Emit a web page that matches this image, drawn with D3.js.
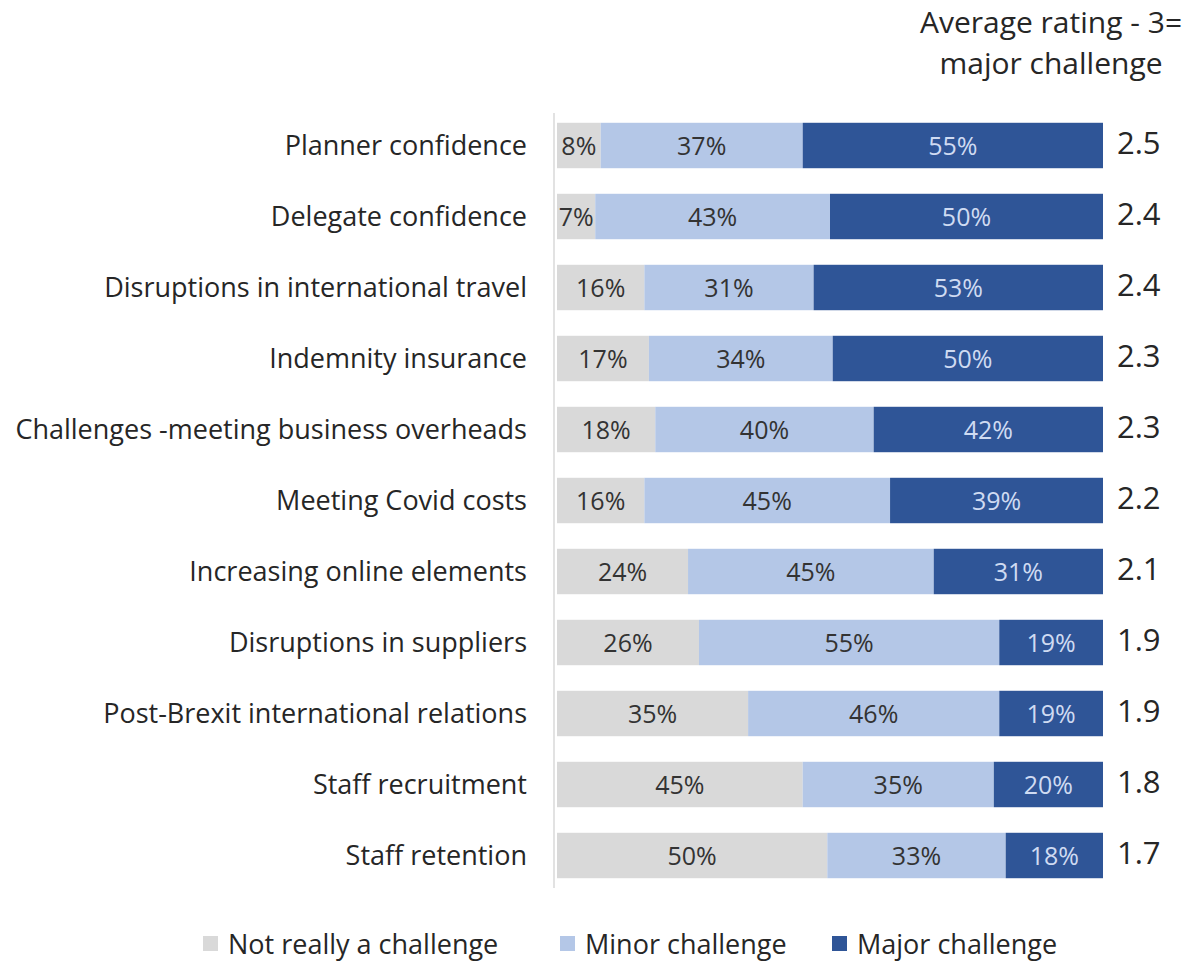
<!DOCTYPE html>
<html>
<head>
<meta charset="utf-8">
<script src="https://cdn.jsdelivr.net/npm/d3@7"></script>
<style>
  body { margin: 0; background: #fff; }
  text { font-family: "Open Sans", "Noto Sans", sans-serif; }
</style>
</head>
<body>
<svg id="chart"></svg>
<script>
var categories = ["Planner confidence", "Delegate confidence", "Disruptions in international travel",
    "Indemnity insurance", "Challenges -meeting business overheads", "Meeting Covid costs",
    "Increasing online elements", "Disruptions in suppliers", "Post-Brexit international relations",
    "Staff recruitment", "Staff retention"];
var notReally = [8, 7, 16, 17, 18, 16, 24, 26, 35, 45, 50];
var minor     = [37, 43, 31, 34, 40, 45, 45, 55, 46, 35, 33];
var major     = [55, 50, 53, 50, 42, 39, 31, 19, 19, 20, 18];
var ratings   = ["2.5", "2.4", "2.4", "2.3", "2.3", "2.2", "2.1", "1.9", "1.9", "1.8", "1.7"];
var seriesNames = ["Not really a challenge", "Minor challenge", "Major challenge"];
var colors = ["#d9d9d9", "#b4c7e7", "#2f5597"];
var labelColors = ["#333333", "#333333", "#cfdbf2"];

var W = 1197, H = 963;
var svg = d3.select("#chart").attr("width", W).attr("height", H);

var rows = categories.map(function(c, i) {
    return { cat: c, s0: notReally[i], s1: minor[i], s2: major[i], rating: ratings[i] };
});

var stack = d3.stack().keys(["s0", "s1", "s2"]).offset(d3.stackOffsetExpand);
var layers = stack(rows);

var xScale = d3.scaleLinear().domain([0, 1]).range([557, 1103]);
var yScale = d3.scaleBand().domain(categories).range([110, 891]).paddingInner(0.36).paddingOuter(0.18);

// bars
var g = svg.append("g");
layers.forEach(function(layer, li) {
    var lg = g.append("g");
    lg.selectAll("rect")
        .data(layer)
        .enter().append("rect")
        .attr("x", function(d) { return xScale(d[0]); })
        .attr("y", function(d) { return yScale(d.data.cat); })
        .attr("width", function(d) { return xScale(d[1]) - xScale(d[0]); })
        .attr("height", yScale.bandwidth())
        .attr("fill", colors[li]);
    lg.selectAll("text")
        .data(layer)
        .enter().append("text")
        .attr("x", function(d) { return (xScale(d[0]) + xScale(d[1])) / 2; })
        .attr("y", function(d) { return yScale(d.data.cat) + yScale.bandwidth() / 2; })
        .attr("dy", "0.36em")
        .attr("text-anchor", "middle")
        .attr("font-size", 25)
        .attr("fill", labelColors[li])
        .text(function(d) { return d.data[layer.key] + "%"; });
});

// vertical axis line
svg.append("line")
    .attr("x1", 554).attr("x2", 554)
    .attr("y1", 113).attr("y2", 888)
    .attr("stroke", "#d9d9d9").attr("stroke-width", 1.5);

// category labels
svg.append("g").selectAll("text")
    .data(rows)
    .enter().append("text")
    .attr("x", 527)
    .attr("y", function(d) { return yScale(d.cat) + yScale.bandwidth() / 2; })
    .attr("dy", "0.36em")
    .attr("text-anchor", "end")
    .attr("font-size", 27)
    .attr("fill", "#262626")
    .text(function(d) { return d.cat; });

// average ratings
svg.append("g").selectAll("text")
    .data(rows)
    .enter().append("text")
    .attr("x", 1117)
    .attr("y", function(d) { return yScale(d.cat) + yScale.bandwidth() / 2 - 3; })
    .attr("dy", "0.36em")
    .attr("font-size", 31)
    .attr("fill", "#262626")
    .text(function(d) { return d.rating; });

// header
svg.append("text").attr("x", 1051).attr("y", 33).attr("text-anchor", "middle")
    .attr("font-size", 30).attr("fill", "#262626").text("Average rating - 3=");
svg.append("text").attr("x", 1051).attr("y", 74).attr("text-anchor", "middle")
    .attr("font-size", 30).attr("fill", "#262626").text("major challenge");

// legend
var legendX = [203, 560, 832];
var legend = svg.append("g").selectAll("g")
    .data(seriesNames)
    .enter().append("g")
    .attr("transform", function(d, i) { return "translate(" + legendX[i] + ",944)"; });
legend.append("rect").attr("x", 0).attr("y", -8).attr("width", 15).attr("height", 15)
    .attr("fill", function(d, i) { return colors[i]; });
legend.append("text").attr("x", 25).attr("dy", "0.36em")
    .attr("font-size", 27).attr("fill", "#262626")
    .text(function(d) { return d; });
</script>
</body>
</html>
